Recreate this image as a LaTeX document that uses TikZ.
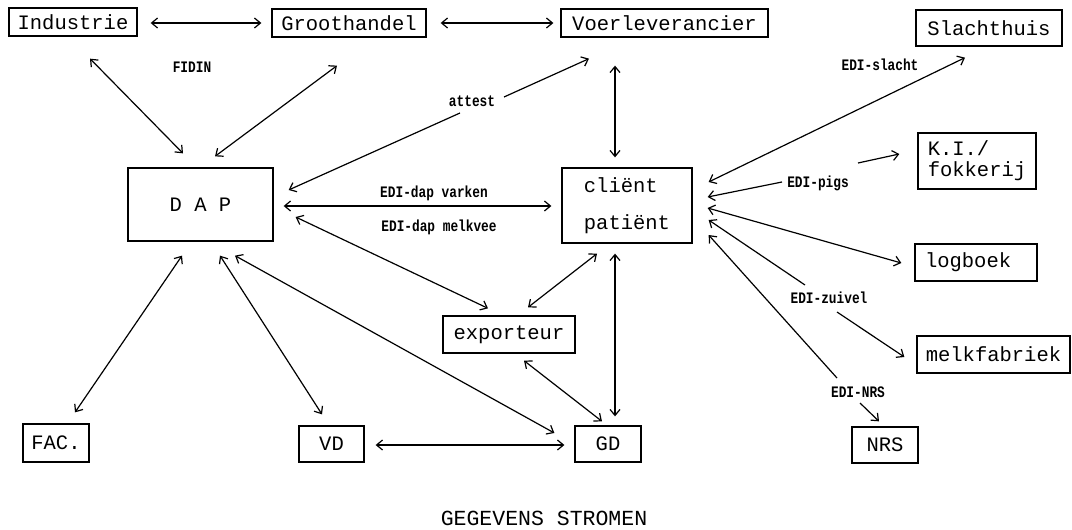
\documentclass[tikz,border=0pt]{standalone}
\usepackage{fontspec}
\usetikzlibrary{arrows.meta, calc}
\newfontfamily\boxfont{Liberation Mono}
\newfontfamily\edifont[FakeStretch=0.8]{Liberation Mono}

\begin{document}
\begin{tikzpicture}[
    x=1pt, y=-1pt,
    box/.style={draw, line width=1.3pt, inner sep=0pt, align=center, font=\boxfont\fontsize{20.5}{24}\selectfont},
    edi/.style={font=\edifont\bfseries\fontsize{16}{18}\selectfont, inner sep=1pt},
    flow/.style={{Straight Barb[length=6pt,width=10pt]}-{Straight Barb[length=6pt,width=10pt]}, line width=1.2pt},
    toflow/.style={-{Straight Barb[length=6pt,width=10pt]}, line width=1.2pt}
]
\useasboundingbox (0,0) rectangle (1072,530);

% Top row
\node[box, minimum width=128pt, minimum height=28pt] (ind) at (73,22) {Industrie};
\node[box, minimum width=154pt, minimum height=28pt] (groot) at (349,23) {Groothandel};
\node[box, minimum width=207pt, minimum height=28pt] (voer) at (664.5,23) {Voerleverancier};
\node[box, minimum width=146pt, minimum height=36pt] (slacht) at (989,28) {Slachthuis};

% Middle
\node[box, minimum width=145pt, minimum height=73pt] (dap) at (200.5,204.5) {D A P};
\node[box, minimum width=130pt, minimum height=75pt, align=left,
      font=\boxfont\fontsize{20.5}{37}\selectfont] (client) at (627,205.5) {cliënt\\patiënt};
\node[box, minimum width=118pt, minimum height=56pt, align=left,
      font=\boxfont\fontsize{20.5}{21}\selectfont] (ki) at (977,161) {K.I./\\fokkerij};
\node[box, minimum width=122pt, minimum height=37pt, text width=102pt, align=left] (logb) at (976,262.5) {logboek};
\node[box, minimum width=132pt, minimum height=37pt] (export) at (509,334.5) {exporteur};
\node[box, minimum width=153pt, minimum height=37pt] (melk) at (993.5,354.5) {melkfabriek};

% Bottom row
\node[box, minimum width=66pt, minimum height=38pt] (fac) at (56,443) {FAC.};
\node[box, minimum width=65pt, minimum height=36pt] (vd) at (331.5,444) {VD};
\node[box, minimum width=66pt, minimum height=36pt] (gd) at (608,444) {GD};
\node[box, minimum width=66pt, minimum height=36pt] (nrs) at (885,445) {NRS};

\node[font=\boxfont\fontsize{21.5}{24}\selectfont] (title) at (544,518) {GEGEVENS STROMEN};

% Labels
\node[edi] (fidin) at (192,67) {FIDIN};
\node[edi] (attest) at (472,101) {attest};
\node[edi] (varken) at (434,193) {EDI-dap varken};
\node[edi] (melkvee) at (439,227) {EDI-dap melkvee};
\node[edi] (slachtlbl) at (880,65) {EDI-slacht};
\node[edi] (pigs) at (818,183) {EDI-pigs};
\node[edi] (zuivel) at (829,298) {EDI-zuivel};
\node[edi] (nrslbl) at (858,392) {EDI-NRS};

% Flows around DAP
\draw[flow] ($(ind.east)+(13,1)$) -- ($(groot.west)+(-10,0)$);
\draw[flow] ($(groot.east)+(14,0)$) -- ($(voer.west)+(-7,0)$);
\draw[flow] ($(ind.south)+(17,22)$) -- ($(dap.north)+(-17.5,-14)$);
\draw[flow] ($(groot.south)+(-12,28)$) -- ($(dap.north)+(14.5,-11)$);
\draw[toflow] ($(attest)+(32,-4)$) -- ($(voer.south)+(-75.5,21)$);
\draw[toflow] ($(attest)+(-12,12)$) -- ($(dap.east)+(15,-14.5)$);
\draw[flow] ($(voer.south)+(-49.5,28)$) -- ($(client.north)+(-12,-10)$);
\draw[flow] ($(dap.east)+(10,1.5)$) -- ($(client.west)+(-10,0.5)$);
\draw[flow] ($(dap.east)+(22,12.5)$) -- ($(export.north)+(-21,-7)$);
\draw[flow] ($(dap.south)+(-18.5,14)$) -- ($(fac.north)+(19,-11)$);
\draw[flow] ($(dap.south)+(19.5,14)$) -- ($(vd.north)+(-9.5,-11)$);
\draw[flow] ($(dap.south)+(34.5,14)$) -- ($(gd.west)+(-20,-11)$);
\draw[flow] ($(vd.east)+(11,1)$) -- ($(gd.west)+(-10,1)$);

% Flows around client
\draw[flow] ($(export.south)+(15,7)$) -- ($(gd.north)+(-6,-4)$);
\draw[flow] ($(export.north)+(19,-8)$) -- ($(client.south)+(-30,10)$);
\draw[flow] ($(client.south)+(-12,10)$) -- ($(gd.north)+(7,-9)$);
\draw[flow] ($(client.east)+(16,-23.5)$) -- ($(slacht.south)+(-24,11)$);
\draw[toflow] ($(pigs)+(-36,-1)$) -- ($(client.east)+(15,-8.5)$);
\draw[toflow] ($(pigs)+(40,-20)$) -- ($(ki.west)+(-18,-7)$);
\draw[flow] ($(client.east)+(15,2.5)$) -- ($(logb.west)+(-13,0.5)$);
\draw[toflow] ($(zuivel)+(-24,-13)$) -- ($(client.east)+(16,14.5)$);
\draw[toflow] ($(zuivel)+(8,14)$) -- ($(melk.west)+(-12,2.5)$);
\draw[toflow] ($(nrslbl)+(-21,-14)$) -- ($(client.east)+(16,29.5)$);
\draw[toflow] ($(nrslbl)+(2,11)$) -- ($(nrs.north)+(-6,-5)$);
\end{tikzpicture}
\end{document}
